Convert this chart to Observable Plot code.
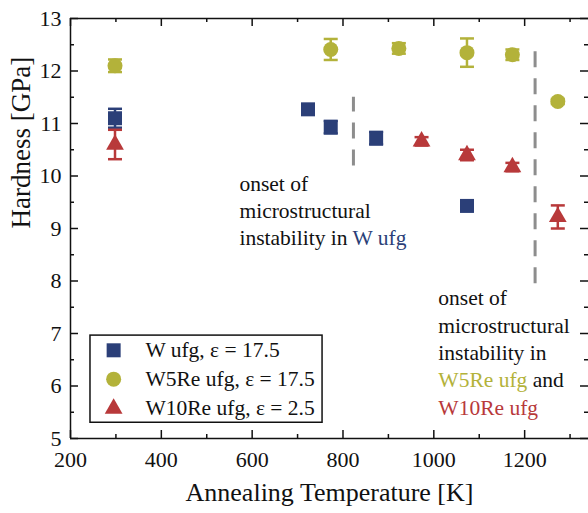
<!DOCTYPE html>
<html><head><meta charset="utf-8">
<script src="https://cdn.jsdelivr.net/npm/d3@7"></script>
<script src="https://cdn.jsdelivr.net/npm/@observablehq/plot@0.6"></script>
<style>body{margin:0;background:#fff}#chart{width:588px;height:513px}
#chart svg, #chart svg text{font-family:"Liberation Serif","Times New Roman",Times,FreeSerif,serif !important}</style>
</head><body><div id="chart"></div>
<script>
// ---- data ----
const seriesNames = ["W ufg, ε = 17.5", "W5Re ufg, ε = 17.5", "W10Re ufg, ε = 2.5"];
const seriesColors = ["#2b3f78", "#b3b23a", "#b8393a"];
const seriesSymbols = ["square", "circle", "triangle"];

const wTemp = [298, 723, 773, 873, 1073];
const wHard = [11.10, 11.27, 10.93, 10.72, 9.43];
const wErr  = [0.18, 0.08, 0.12, 0.12, 0.08];

const w5Temp = [298, 773, 923, 1073, 1173, 1273];
const w5Hard = [12.10, 12.41, 12.43, 12.35, 12.31, 11.42];
const w5Err  = [0.12, 0.20, 0.10, 0.27, 0.10, 0.05];

const w10Temp = [298, 973, 1073, 1173, 1273];
const w10Hard = [10.60, 10.66, 10.40, 10.17, 9.22];
const w10Err  = [0.28, 0.08, 0.10, 0.08, 0.22];

const onsetTemp = [823, 1223];
const onsetLow  = [10.19, 7.95];
const onsetHigh = [11.50, 12.37];

const noteTemp = [572, 1010];
const noteHard = [8.68, 5.457];
const noteText = [
  "onset of\nmicrostructural\ninstability in W ufg",
  "onset of\nmicrostructural\ninstability in\nW5Re ufg and\nW10Re ufg"
];
const noteColored = [["W5Re ufg", "#b3b23a"], ["W10Re ufg", "#b8393a"], ["W ufg", "#2b3f78"]];

const xMajor = [200, 400, 600, 800, 1000, 1200, 1400];
const xMinor = [300, 500, 700, 900, 1100, 1300];
const yMajor = [5, 6, 7, 8, 9, 10, 11, 12, 13];
const yMinor = [5.5, 6.5, 7.5, 8.5, 9.5, 10.5, 11.5, 12.5];

// legend placement (data units)
const legendBoxX = [244, 755];
const legendBoxY = [5.30, 6.96];
const legendSymbolX = 295;
const legendTextX = 365;
const legendRowY = [6.68, 6.13, 5.57];

// ---- build ----
const temps = [wTemp, w5Temp, w10Temp];
const hards = [wHard, w5Hard, w10Hard];
const errs = [wErr, w5Err, w10Err];
const radii = [7.9, 7.5, 6.6];

const font = "Liberation Serif";
const W = 588, H = 513, ML = 70, MT = 18, MB = 75;
const innerW = W - ML, innerH = H - MT - MB;
const cap = {draw(ctx) { ctx.moveTo(-7, 0); ctx.lineTo(7, 0); }};

const marks = [];

const onset = onsetTemp.map((t, i) => ({t, lo: onsetLow[i], hi: onsetHigh[i]}));
marks.push(Plot.ruleX(onset, {x: "t", y1: "lo", y2: "hi", stroke: "#8d8d8d", strokeWidth: 3, strokeDasharray: "16,11"}));

seriesNames.forEach((name, s) => {
  const pts = temps[s].map((t, i) => ({t, h: hards[s][i], e: errs[s][i]}));
  const color = seriesColors[s];
  marks.push(Plot.ruleX(pts, {x: "t", y1: d => d.h - d.e, y2: d => d.h + d.e, stroke: color, strokeWidth: 2.5}));
  marks.push(Plot.dot(pts, {x: "t", y: d => d.h - d.e, symbol: cap, stroke: color, strokeWidth: 2.5, r: 5}));
  marks.push(Plot.dot(pts, {x: "t", y: d => d.h + d.e, symbol: cap, stroke: color, strokeWidth: 2.5, r: 5}));
  marks.push(Plot.dot(pts, {x: "t", y: "h", symbol: seriesSymbols[s], fill: color, stroke: "none", r: radii[s]}));
});

const notes = noteText.map((txt, i) => ({t: noteTemp[i], h: noteHard[i], txt}));
marks.push(Plot.text(notes, {x: "t", y: "h", text: "txt", textAnchor: "start", lineAnchor: "bottom",
  lineHeight: 1.27, fontSize: 21.5, fill: "#111", className: "note"}));

marks.push(Plot.rect([0], {x1: legendBoxX[0], x2: legendBoxX[1], y1: legendBoxY[0], y2: legendBoxY[1],
  fill: "white", stroke: "#111", strokeWidth: 1.5}));
const leg = seriesNames.map((name, s) => ({name, y: legendRowY[s], color: seriesColors[s], sym: seriesSymbols[s], r: radii[s]}));
leg.forEach(d => {
  marks.push(Plot.dot([d], {x: legendSymbolX, y: "y", symbol: d.sym, fill: d.color, stroke: "none", r: d.r}));
});
marks.push(Plot.text(leg, {x: legendTextX, y: "y", text: "name", textAnchor: "start", fontSize: 21.5, fill: "#111"}));

marks.push(Plot.ruleY([5, 13], {stroke: "#111", strokeWidth: 1.5}));
marks.push(Plot.ruleX([200, 1345], {stroke: "#111", strokeWidth: 1.5}));

const tk = (len) => innerH - len;
const tkw = (len) => innerW - len;
marks.push(Plot.ruleX(xMajor, {x: d => d, insetTop: tk(8), stroke: "#111", strokeWidth: 1.5}));
marks.push(Plot.ruleX(xMajor, {x: d => d, insetBottom: tk(8), stroke: "#111", strokeWidth: 1.5}));
marks.push(Plot.ruleX(xMinor, {x: d => d, insetTop: tk(4), stroke: "#111", strokeWidth: 1.5}));
marks.push(Plot.ruleX(xMinor, {x: d => d, insetBottom: tk(4), stroke: "#111", strokeWidth: 1.5}));
marks.push(Plot.ruleY(yMajor, {y: d => d, insetRight: tkw(8), stroke: "#111", strokeWidth: 1.5}));
marks.push(Plot.ruleY(yMajor, {y: d => d, insetLeft: tkw(8), stroke: "#111", strokeWidth: 1.5}));
marks.push(Plot.ruleY(yMinor, {y: d => d, insetRight: tkw(4), stroke: "#111", strokeWidth: 1.5}));
marks.push(Plot.ruleY(yMinor, {y: d => d, insetLeft: tkw(4), stroke: "#111", strokeWidth: 1.5}));

marks.push(Plot.axisX(xMajor.filter(v => v <= 1200), {tickSize: 0, tickPadding: 13, tickFormat: d3.format("d"), label: null, fontSize: 22, fill: "#111"}));
marks.push(Plot.axisY(yMajor, {tickSize: 0, tickPadding: 9, tickFormat: d3.format("d"), label: null, fontSize: 22, fill: "#111"}));
marks.push(Plot.text(["Annealing Temperature [K]"], {frameAnchor: "bottom", dy: 62, lineAnchor: "bottom", fontSize: 26, fill: "#111"}));
marks.push(Plot.text(["Hardness [GPa]"], {frameAnchor: "left", dx: -49, rotate: -90, fontSize: 27, fill: "#111"}));

const chart = Plot.plot({
  width: W, height: H,
  marginLeft: ML, marginRight: 0, marginTop: MT, marginBottom: MB,
  style: {fontFamily: font, fontSize: "22px", background: "white"},
  x: {domain: [200, 1345], range: [ML, 590]},
  y: {domain: [5, 13]},
  marks
});

d3.select(chart).selectAll(".note tspan").each(function () {
  const txt = this.textContent;
  for (const [phrase, color] of noteColored) {
    const k = txt.indexOf(phrase);
    if (k >= 0) {
      this.textContent = "";
      const before = txt.slice(0, k), after = txt.slice(k + phrase.length);
      const ns = "http://www.w3.org/2000/svg";
      if (before) { const a = document.createElementNS(ns, "tspan"); a.textContent = before; this.appendChild(a); }
      const b = document.createElementNS(ns, "tspan"); b.textContent = phrase; b.setAttribute("fill", color); this.appendChild(b);
      if (after) { const c = document.createElementNS(ns, "tspan"); c.textContent = after; this.appendChild(c); }
      break;
    }
  }
});

document.getElementById("chart").appendChild(chart);
</script></body></html>
